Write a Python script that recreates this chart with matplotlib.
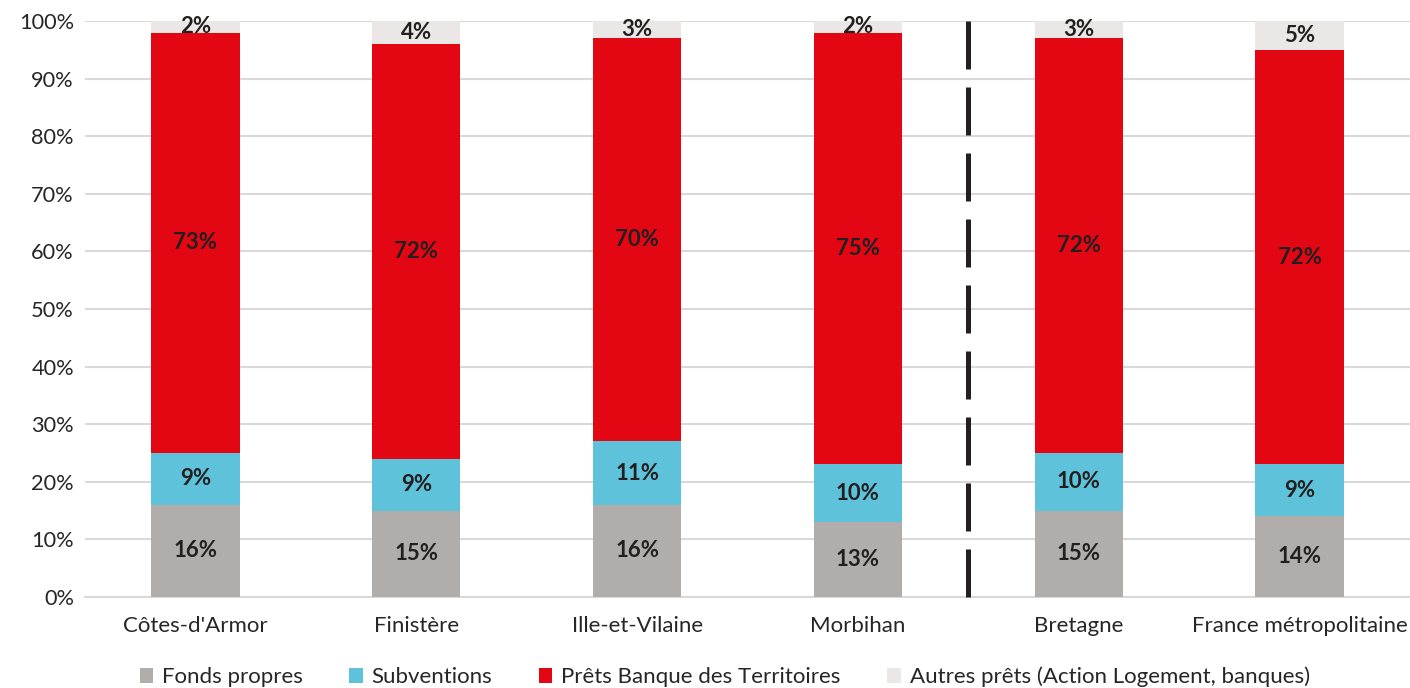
import matplotlib
matplotlib.use("Agg")
import matplotlib.pyplot as plt
import numpy as np

categories = ["Côtes-d'Armor", "Finistère", "Ille-et-Vilaine", "Morbihan", "Bretagne", "France métropolitaine"]
fonds_propres = [16, 15, 16, 13, 15, 14]
subventions = [9, 9, 11, 10, 10, 9]
prets_bdt = [73, 72, 70, 75, 72, 72]
autres_prets = [2, 4, 3, 2, 3, 5]
series_names = ["Fonds propres", "Subventions", "Prêts Banque des Territoires",
                "Autres prêts (Action Logement, banques)"]
series_values = [fonds_propres, subventions, prets_bdt, autres_prets]
colors = ["#b1adaa", "#5ec3da", "#e30613", "#ebe7e7"]
yticks = [0, 10, 20, 30, 40, 50, 60, 70, 80, 90, 100]

plt.rcParams['font.family'] = ['Lato', 'DejaVu Sans']

fig = plt.figure(figsize=(14.10, 6.88), dpi=100)
ax = fig.add_axes([0.0603, 0.1323, 0.9397, 0.8372])

x = np.arange(len(categories))
bottom = np.zeros(len(categories))
handles = []
for name, vals, col in zip(series_names, series_values, colors):
    vals = np.array(vals, dtype=float)
    b = ax.bar(x, vals, width=0.4, bottom=bottom, color=col, label=name, zorder=3)
    handles.append(b)
    for xi, v, bt in zip(x, vals, bottom):
        ax.text(xi, bt + v / 2, f"{int(v)}%", ha='center', va='center',
                fontsize=16, fontweight='bold', color='#231f20', zorder=4)
    bottom += vals

ax.plot([3.5, 3.5], [100, 0], color='#231f20', linewidth=3.6,
        linestyle=(0, (9.6, 3.6)), solid_capstyle='butt', dash_capstyle='butt', zorder=5,
        clip_on=False)

ax.set_xlim(-0.5, 5.5)
ax.set_ylim(0, 100)
ax.set_yticks(yticks)
ax.set_yticklabels([f"{t}%" for t in yticks], fontsize=15.7, color='#262626')
ax.set_xticks(x)
ax.set_xticklabels(categories, fontsize=16, color='#262626')
ax.tick_params(axis='both', length=0)
ax.tick_params(axis='x', pad=14)
ax.tick_params(axis='y', pad=8)
ax.grid(axis='y', color='#d9d9d9', linewidth=1.5, zorder=0)
for s in ['top', 'right', 'left']:
    ax.spines[s].set_visible(False)
ax.spines['bottom'].set_color('#d9d9d9')
ax.spines['bottom'].set_linewidth(1.5)

fig.legend(handles=handles, labels=series_names, loc='center', ncol=4,
           bbox_to_anchor=(0.514, 0.016), frameon=False, fontsize=16,
           handlelength=0.6, handleheight=0.6, handletextpad=0.4, columnspacing=2.1,
           labelcolor='#262626')

fig.savefig("out.png", dpi=100)
